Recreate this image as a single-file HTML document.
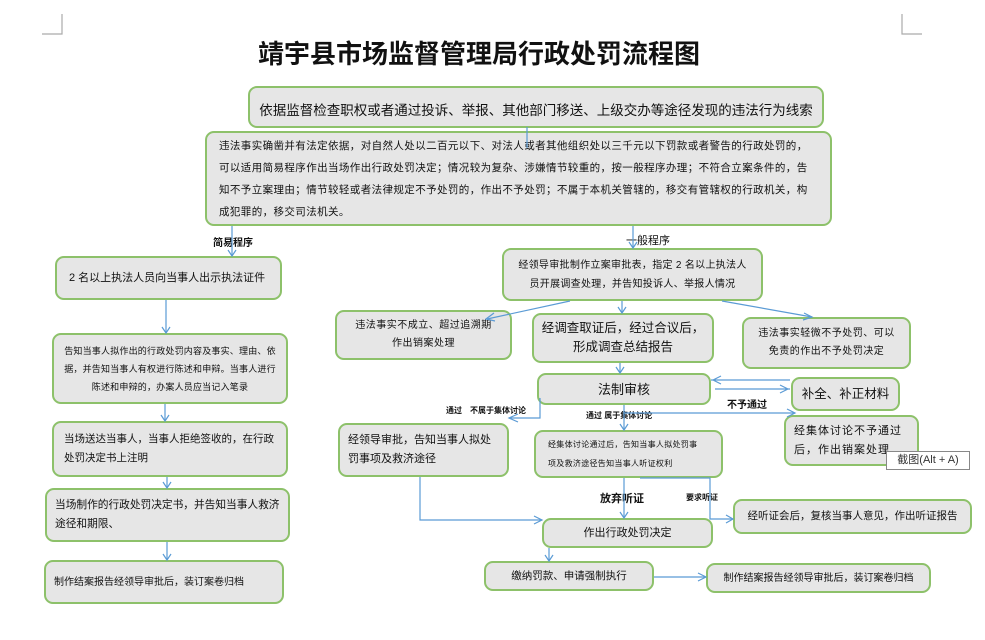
<!DOCTYPE html>
<html><head><meta charset="utf-8"><style>
body{margin:0;width:985px;height:640px;background:#fff;position:relative;overflow:hidden;font-family:"Liberation Sans","Noto Sans CJK SC",sans-serif;color:#111}
.b{position:absolute;box-sizing:border-box;border:2px solid #8dc16a;border-radius:9px;background:#e6e6e6;display:flex;align-items:center;font-size:11px;line-height:21px;padding:0 8px}
.c{justify-content:center;text-align:center;white-space:nowrap}
.l{position:absolute;font-size:9px;font-weight:bold;white-space:nowrap}
svg{position:absolute;left:0;top:0}
</style></head><body>
<div style="position:absolute;left:258px;top:34px;font-size:26px;font-weight:bold;white-space:nowrap">靖宇县市场监督管理局行政处罚流程图</div>
<div class="b c" style="left:248px;top:86px;width:576px;height:42px;font-size:13.5px;padding-top:6px">依据监督检查职权或者通过投诉、举报、其他部门移送、上级交办等途径发现的违法行为线索</div>
<div class="b" style="left:205px;top:131px;width:627px;height:95px;font-size:10.5px;letter-spacing:0.4px;line-height:22px;padding:0 12px">违法事实确凿并有法定依据，对自然人处以二百元以下、对法人或者其他组织处以三千元以下罚款或者警告的行政处罚的，可以适用简易程序作出当场作出行政处罚决定；情况较为复杂、涉嫌情节较重的，按一般程序办理；不符合立案条件的，告知不予立案理由；情节较轻或者法律规定不予处罚的，作出不予处罚；不属于本机关管辖的，移交有管辖权的行政机关，构成犯罪的，移交司法机关。</div>
<div class="l" style="left:213px;top:234px;font-size:10px">简易程序</div>
<div class="l" style="left:626px;top:232px;font-size:11px;font-weight:normal">一般程序</div>
<div class="b" style="left:55px;top:256px;width:227px;height:44px;font-size:11px;padding-left:12px;white-space:nowrap">2 名以上执法人员向当事人出示执法证件</div>
<div class="b c" style="left:52px;top:333px;width:236px;height:71px;font-size:9px;letter-spacing:0.2px;line-height:18px">告知当事人拟作出的行政处罚内容及事实、理由、依<br>据，并告知当事人有权进行陈述和申辩。当事人进行<br>陈述和申辩的，办案人员应当记入笔录</div>
<div class="b" style="left:52px;top:421px;width:236px;height:56px;font-size:10.5px;line-height:19px;padding-left:10px">当场送达当事人，当事人拒绝签收的，在行政处罚决定书上注明</div>
<div class="b" style="left:45px;top:488px;width:245px;height:54px;font-size:10.7px;line-height:19px">当场制作的行政处罚决定书，并告知当事人救济途径和期限、</div>
<div class="b" style="left:44px;top:560px;width:240px;height:44px;font-size:10px;white-space:nowrap">制作结案报告经领导审批后，装订案卷归档</div>
<div class="b c" style="left:502px;top:248px;width:261px;height:53px;font-size:10px;letter-spacing:0.3px;line-height:19px">经领导审批制作立案审批表，指定 2 名以上执法人<br>员开展调查处理，并告知投诉人、举报人情况</div>
<div class="b c" style="left:335px;top:310px;width:177px;height:50px;font-size:10px;letter-spacing:0.5px;line-height:18px">违法事实不成立、超过追溯期<br>作出销案处理</div>
<div class="b c" style="left:532px;top:313px;width:182px;height:50px;font-size:12.5px;line-height:19px">经调查取证后，经过合议后，<br>形成调查总结报告</div>
<div class="b c" style="left:742px;top:317px;width:169px;height:52px;font-size:10px;letter-spacing:0.5px;line-height:18px">违法事实轻微不予处罚、可以<br>免责的作出不予处罚决定</div>
<div class="b c" style="left:537px;top:373px;width:174px;height:32px;font-size:13px">法制审核</div>
<div class="b c" style="left:791px;top:377px;width:109px;height:34px;font-size:12.5px">补全、补正材料</div>
<div class="b" style="left:338px;top:423px;width:171px;height:54px;font-size:11px;line-height:19px">经领导审批，告知当事人拟处罚事项及救济途径</div>
<div class="b" style="left:534px;top:430px;width:189px;height:48px;font-size:8px;letter-spacing:0.3px;line-height:19px;padding-left:12px;white-space:nowrap">经集体讨论通过后，告知当事人拟处罚事<br>项及救济途径告知当事人听证权利</div>
<div class="b" style="left:784px;top:415px;width:135px;height:51px;font-size:11px;line-height:19px;letter-spacing:1px">经集体讨论不予通过后，作出销案处理</div>
<div style="position:absolute;left:886px;top:451px;width:84px;height:19px;border:1px solid #888;background:#fff;font-size:11px;line-height:17px;text-align:center;box-sizing:border-box;color:#333">截图(Alt + A)</div>
<div class="b c" style="left:733px;top:499px;width:239px;height:35px;font-size:10.5px">经听证会后，复核当事人意见，作出听证报告</div>
<div class="b c" style="left:542px;top:518px;width:171px;height:30px;font-size:11px">作出行政处罚决定</div>
<div class="b c" style="left:484px;top:561px;width:170px;height:30px;font-size:10.5px">缴纳罚款、申请强制执行</div>
<div class="b c" style="left:706px;top:563px;width:225px;height:30px;font-size:10px">制作结案报告经领导审批后，装订案卷归档</div>
<div class="l" style="left:446px;top:405px;font-size:8px">通过　不属于集体讨论</div>
<div class="l" style="left:586px;top:410px;font-size:8px">通过 属于集体讨论</div>
<div class="l" style="left:727px;top:396px;font-size:10px">不予通过</div>
<div class="l" style="left:600px;top:490px;font-size:11px">放弃听证</div>
<div class="l" style="left:686px;top:492px;font-size:8px">要求听证</div>
<svg width="985" height="640" fill="none" stroke="#5b9bd5" stroke-width="1.2">
<path d="M62 14V34H42M902 14V34H922" stroke="#aaa"/>
<path d="M527 127V148M232 226V256M166 300V333M165 404V421M167 477V488M167 542V560M633 226V248M570 301L487 319M622 301V313M722 301L812 317M620 363V373M711 380H790M715 389H790M713 380l8-4M713 380l8 4M788 389l-8-4M788 389l-8 4M540 398H540V418H510M624 405V430M624 413H795M624 478V518M640 478H710V519H733M420 477V520H542M549 548V561M654 577H706"/>
<path d="M228 250l4 6 4-6M162 327l4 6 4-6M161 415l4 6 4-6M163 482l4 6 4-6M163 554l4 6 4-6M629 242l4 6 4-6M494 313l-8 6 9 2M618 307l4 6 4-6M804 313l8 4-9 3M616 367l4 6 4-6M518 414l-9 4 9 4M620 424l4 6 4-6M787 409l8 4-8 4M620 512l4 6 4-6M726 515l7 4-7 4M534 516l8 4-8 4M545 555l4 6 4-6M698 573l8 4-8 4"/>
</svg>
</body></html>
